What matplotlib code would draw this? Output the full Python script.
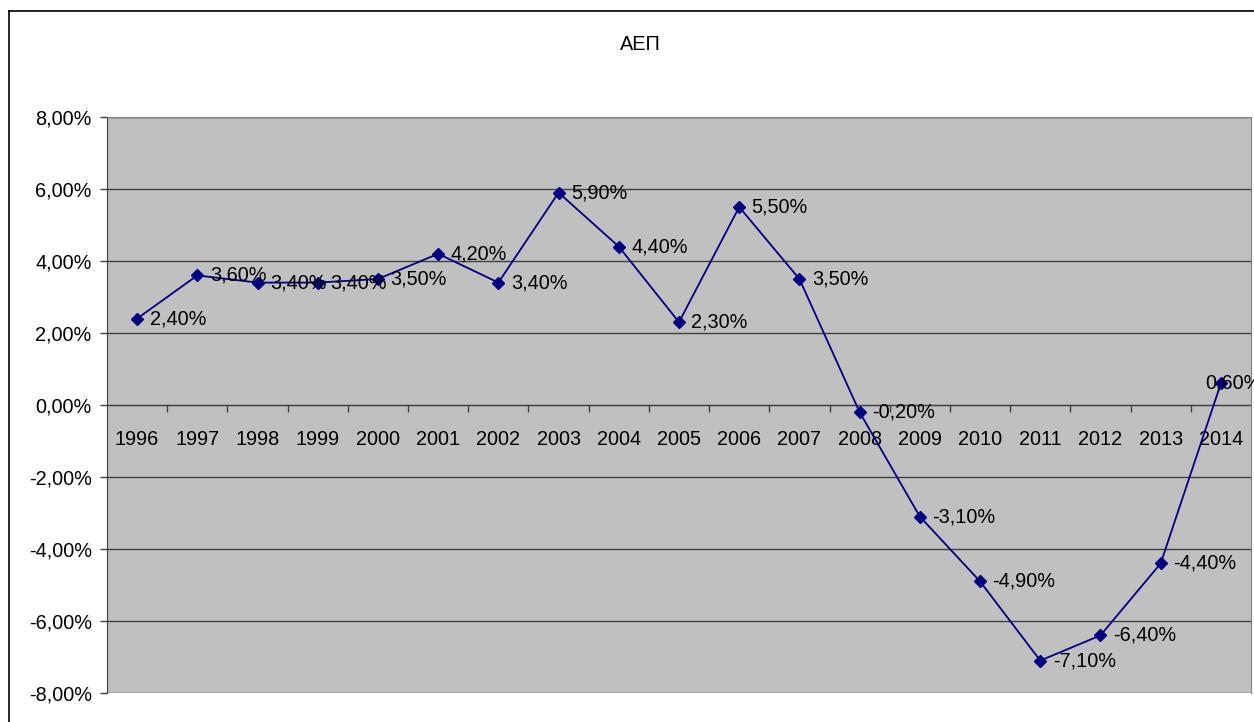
import matplotlib
matplotlib.use("Agg")
import matplotlib.pyplot as plt
from matplotlib.lines import Line2D
from matplotlib.ticker import FixedLocator, FuncFormatter

plt.rcParams['font.family'] = ['Liberation Sans', 'DejaVu Sans']

years = ['1996', '1997', '1998', '1999', '2000', '2001', '2002', '2003', '2004', '2005',
         '2006', '2007', '2008', '2009', '2010', '2011', '2012', '2013', '2014']
gdp = [2.4, 3.6, 3.4, 3.4, 3.5, 4.2, 3.4, 5.9, 4.4, 2.3,
       5.5, 3.5, -0.2, -3.1, -4.9, -7.1, -6.4, -4.4, 0.6]
title = 'ΑΕΠ'

FS = 14.3
W, H = 1254, 722
fig = plt.figure(figsize=(W / 100, H / 100), dpi=100)
fig.patch.set_facecolor('white')

# outer chart border (left and top visible)
fig.add_artist(Line2D([9 / W, 9 / W], [0, 1 - 11 / H], transform=fig.transFigure, color='black', lw=1.2))
fig.add_artist(Line2D([9 / W, 1], [1 - 11 / H, 1 - 11 / H], transform=fig.transFigure, color='black', lw=1.2))

ax = fig.add_axes([107 / W, 29 / H, (1251 - 107) / W, (693 - 117) / H])
ax.set_facecolor('#C0C0C0')
x = list(range(len(years)))
ax.plot(x, gdp, color='#000080', lw=1.3, marker='D', markersize=6, zorder=3)

ax.set_xlim(-0.5, len(years) - 0.5)
ax.set_ylim(-8, 8)

# y axis
ax.yaxis.set_major_locator(FixedLocator([-8, -6, -4, -2, 0, 2, 4, 6, 8]))
ax.yaxis.set_major_formatter(FuncFormatter(lambda v, p: f"{v:.2f}%".replace('.', ',')))
ax.tick_params(axis='y', direction='out', length=5, width=1, color='#404040', labelsize=FS, pad=6)
ax.yaxis.grid(True, color='#404040', lw=1)
ax.set_axisbelow(True)

# x axis through zero
ax.spines['bottom'].set_position(('data', 0))
ax.spines['bottom'].set_color('#404040')
ax.spines['bottom'].set_zorder(2)
ax.spines['left'].set_color('#404040')
ax.spines['top'].set_color('#808080')
ax.spines['right'].set_color('#808080')
ax.set_xticks(x)
ax.set_xticklabels(years)
ax.set_xticks([i + 0.5 for i in x[:-1]], minor=True)
ax.tick_params(axis='x', which='major', length=0, labelsize=FS, pad=18)
ax.tick_params(axis='x', which='minor', direction='out', length=5, width=1, color='#404040')

for i, v in enumerate(gdp):
    dx = 9 if i < len(gdp) - 1 else -11
    ax.annotate(f"{v:.2f}%".replace('.', ','), (i, v), xytext=(dx, 0), textcoords='offset points',
                va='center', ha='left', fontsize=FS, annotation_clip=False, clip_on=False, zorder=4)

fig.text(640 / W, 1 - 45 / H, title, ha='center', va='center', fontsize=FS)

fig.savefig('out.png', dpi=100)
